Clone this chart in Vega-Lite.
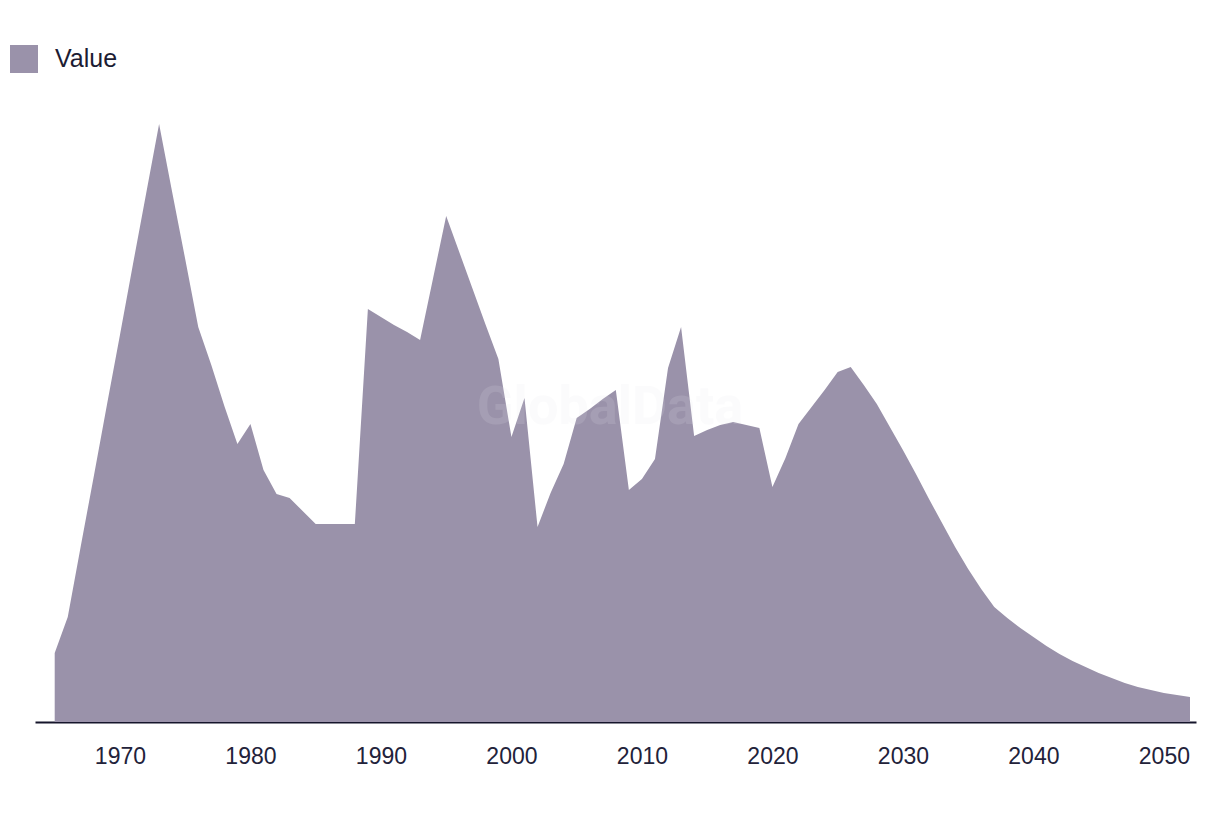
{
  "$schema": "https://vega.github.io/schema/vega-lite/v6.json",
  "autosize": {"type": "none"},
  "width": 1161,
  "height": 622,
  "padding": {"left": 35, "top": 100, "right": 24, "bottom": 94},
  "background": "#ffffff",
  "config": {
    "view": {"stroke": null},
    "font": "Liberation Sans"
  },
  "layer": [
    {
      "data": {
        "values": [
          {"year": 1965, "value": 69, "series": "Value"},
          {"year": 1966, "value": 105, "series": "Value"},
          {"year": 1967, "value": 176, "series": "Value"},
          {"year": 1968, "value": 246, "series": "Value"},
          {"year": 1969, "value": 317, "series": "Value"},
          {"year": 1970, "value": 387, "series": "Value"},
          {"year": 1971, "value": 458, "series": "Value"},
          {"year": 1972, "value": 528, "series": "Value"},
          {"year": 1973, "value": 598, "series": "Value"},
          {"year": 1974, "value": 530, "series": "Value"},
          {"year": 1975, "value": 463, "series": "Value"},
          {"year": 1976, "value": 395, "series": "Value"},
          {"year": 1977, "value": 357, "series": "Value"},
          {"year": 1978, "value": 316, "series": "Value"},
          {"year": 1979, "value": 278, "series": "Value"},
          {"year": 1980, "value": 298, "series": "Value"},
          {"year": 1981, "value": 252, "series": "Value"},
          {"year": 1982, "value": 228, "series": "Value"},
          {"year": 1983, "value": 224, "series": "Value"},
          {"year": 1984, "value": 211, "series": "Value"},
          {"year": 1985, "value": 198, "series": "Value"},
          {"year": 1986, "value": 198, "series": "Value"},
          {"year": 1987, "value": 198, "series": "Value"},
          {"year": 1988, "value": 198, "series": "Value"},
          {"year": 1989, "value": 413, "series": "Value"},
          {"year": 1990, "value": 405, "series": "Value"},
          {"year": 1991, "value": 397, "series": "Value"},
          {"year": 1992, "value": 390, "series": "Value"},
          {"year": 1993, "value": 382, "series": "Value"},
          {"year": 1994, "value": 444, "series": "Value"},
          {"year": 1995, "value": 506, "series": "Value"},
          {"year": 1996, "value": 470, "series": "Value"},
          {"year": 1997, "value": 434, "series": "Value"},
          {"year": 1998, "value": 398, "series": "Value"},
          {"year": 1999, "value": 363, "series": "Value"},
          {"year": 2000, "value": 285, "series": "Value"},
          {"year": 2001, "value": 324, "series": "Value"},
          {"year": 2002, "value": 195, "series": "Value"},
          {"year": 2003, "value": 229, "series": "Value"},
          {"year": 2004, "value": 258, "series": "Value"},
          {"year": 2005, "value": 304, "series": "Value"},
          {"year": 2006, "value": 313, "series": "Value"},
          {"year": 2007, "value": 323, "series": "Value"},
          {"year": 2008, "value": 332, "series": "Value"},
          {"year": 2009, "value": 232, "series": "Value"},
          {"year": 2010, "value": 243, "series": "Value"},
          {"year": 2011, "value": 263, "series": "Value"},
          {"year": 2012, "value": 354, "series": "Value"},
          {"year": 2013, "value": 395, "series": "Value"},
          {"year": 2014, "value": 286, "series": "Value"},
          {"year": 2015, "value": 292, "series": "Value"},
          {"year": 2016, "value": 297, "series": "Value"},
          {"year": 2017, "value": 300, "series": "Value"},
          {"year": 2018, "value": 297, "series": "Value"},
          {"year": 2019, "value": 294, "series": "Value"},
          {"year": 2020, "value": 235, "series": "Value"},
          {"year": 2021, "value": 264, "series": "Value"},
          {"year": 2022, "value": 298, "series": "Value"},
          {"year": 2023, "value": 315, "series": "Value"},
          {"year": 2024, "value": 332, "series": "Value"},
          {"year": 2025, "value": 350, "series": "Value"},
          {"year": 2026, "value": 355, "series": "Value"},
          {"year": 2027, "value": 337, "series": "Value"},
          {"year": 2028, "value": 318, "series": "Value"},
          {"year": 2029, "value": 295, "series": "Value"},
          {"year": 2030, "value": 272, "series": "Value"},
          {"year": 2031, "value": 248, "series": "Value"},
          {"year": 2032, "value": 223, "series": "Value"},
          {"year": 2033, "value": 199, "series": "Value"},
          {"year": 2034, "value": 175, "series": "Value"},
          {"year": 2035, "value": 153, "series": "Value"},
          {"year": 2036, "value": 133, "series": "Value"},
          {"year": 2037, "value": 115, "series": "Value"},
          {"year": 2038, "value": 104, "series": "Value"},
          {"year": 2039, "value": 94, "series": "Value"},
          {"year": 2040, "value": 85, "series": "Value"},
          {"year": 2041, "value": 76, "series": "Value"},
          {"year": 2042, "value": 68, "series": "Value"},
          {"year": 2043, "value": 61, "series": "Value"},
          {"year": 2044, "value": 55, "series": "Value"},
          {"year": 2045, "value": 49, "series": "Value"},
          {"year": 2046, "value": 44, "series": "Value"},
          {"year": 2047, "value": 39, "series": "Value"},
          {"year": 2048, "value": 35, "series": "Value"},
          {"year": 2049, "value": 32, "series": "Value"},
          {"year": 2050, "value": 29, "series": "Value"},
          {"year": 2051, "value": 27, "series": "Value"},
          {"year": 2052, "value": 25, "series": "Value"}
        ]
      },
      "mark": {"type": "area", "interpolate": "linear", "opacity": 1},
      "encoding": {
        "x": {
          "field": "year",
          "type": "quantitative",
          "scale": {"domain": [1963.49, 2052.46], "nice": false, "zero": false},
          "axis": {
            "title": null,
            "values": [1970, 1980, 1990, 2000, 2010, 2020, 2030, 2040, 2050],
            "format": "d",
            "grid": false,
            "ticks": false,
            "domain": true,
            "domainColor": "#15152b",
            "domainWidth": 2,
            "labelFontSize": 23,
            "labelColor": "#22223a",
            "labelPadding": 23,
            "labelFont": "Liberation Sans"
          }
        },
        "y": {
          "field": "value",
          "type": "quantitative",
          "scale": {"domain": [0, 622], "nice": false},
          "axis": null
        },
        "color": {
          "field": "series",
          "type": "nominal",
          "scale": {"range": ["#9a92aa"]},
          "legend": {
            "title": null,
            "orient": "none",
            "legendX": -25,
            "legendY": -55,
            "symbolType": "square",
            "symbolSize": 784,
            "symbolOpacity": 1,
            "symbolStrokeWidth": 0,
            "labelFontSize": 25,
            "labelColor": "#1c1c33",
            "labelFont": "Liberation Sans",
            "labelOffset": 17
          }
        }
      }
    },
    {
      "data": {"values": [{"label": "GlobalData", "year": 2007.55, "value": 314}]},
      "mark": {"type": "text", "fontSize": 54, "fontWeight": "bold", "font": "Roboto", "align": "center", "baseline": "middle"},
      "encoding": {
        "x": {"field": "year", "type": "quantitative"},
        "y": {"field": "value", "type": "quantitative"},
        "text": {"field": "label"},
        "color": {"value": "#e6e6ec"},
        "opacity": {"value": 0.15}
      }
    }
  ]
}
